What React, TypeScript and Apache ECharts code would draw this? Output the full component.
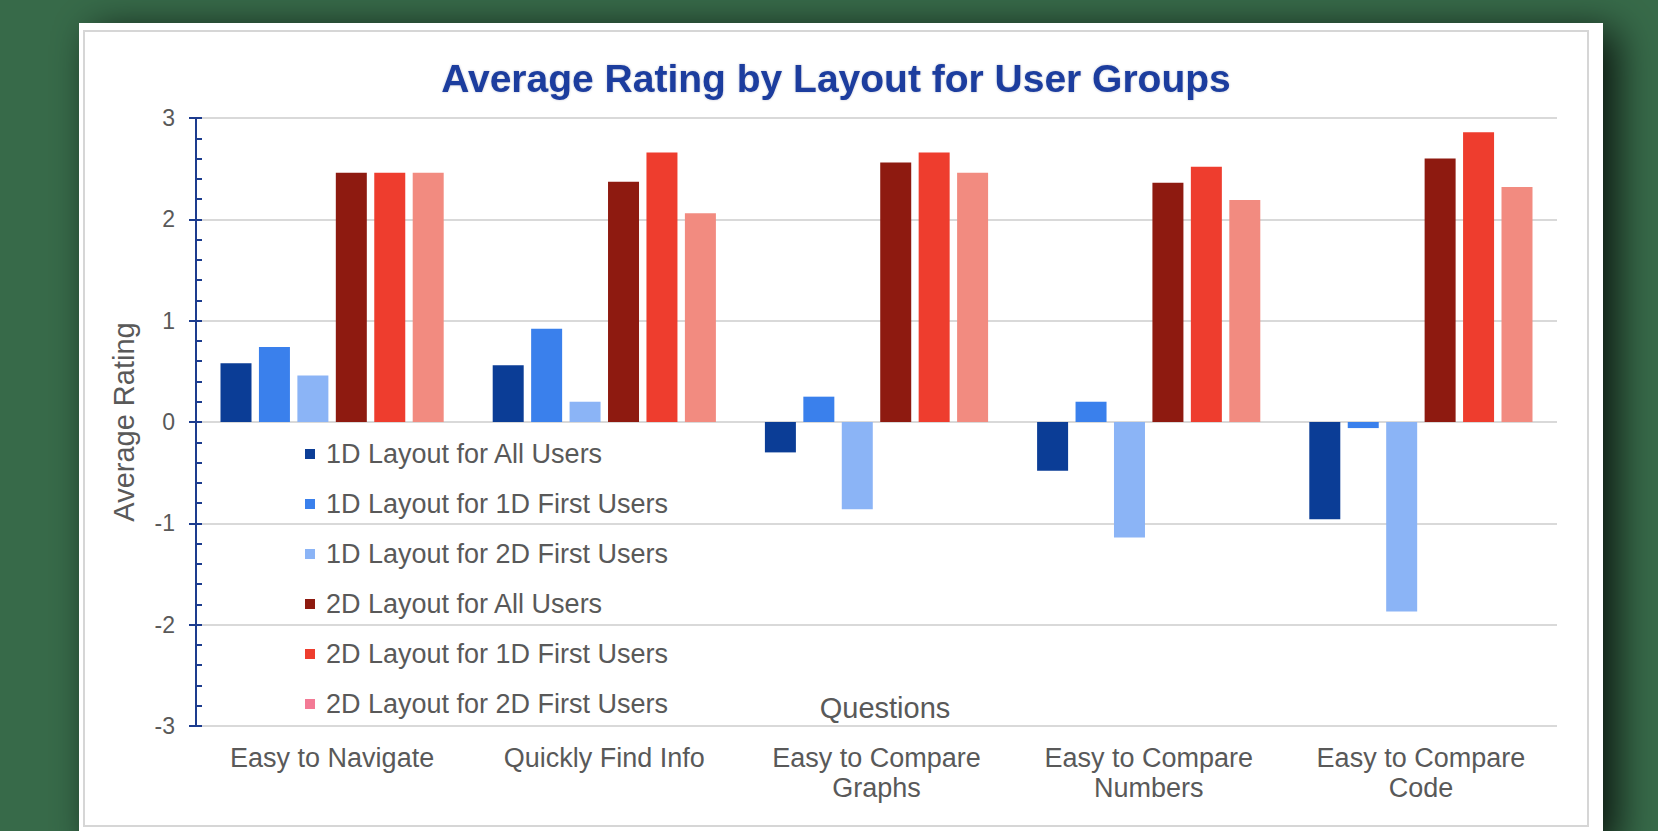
import React, { useEffect, useRef } from "react";
import * as echarts from "echarts";

const categories = [
  "Easy to Navigate",
  "Quickly Find Info",
  "Easy to Compare\nGraphs",
  "Easy to Compare\nNumbers",
  "Easy to Compare\nCode",
];
const seriesNames = [
  "1D Layout for All Users",
  "1D Layout for 1D First Users",
  "1D Layout for 2D First Users",
  "2D Layout for All Users",
  "2D Layout for 1D First Users",
  "2D Layout for 2D First Users",
];
const oneDAll = [0.58, 0.56, -0.3, -0.48, -0.96];
const oneDFirst1D = [0.74, 0.92, 0.25, 0.2, -0.06];
const oneDFirst2D = [0.46, 0.2, -0.86, -1.14, -1.87];
const twoDAll = [2.46, 2.37, 2.56, 2.36, 2.6];
const twoDFirst1D = [2.46, 2.66, 2.66, 2.52, 2.86];
const twoDFirst2D = [2.46, 2.06, 2.46, 2.19, 2.32];
const seriesValues = [oneDAll, oneDFirst1D, oneDFirst2D, twoDAll, twoDFirst1D, twoDFirst2D];
const barColors = ["#0b3d96", "#3a80ec", "#8bb4f6", "#8e1a10", "#ee3d2e", "#f28b80"];
const legendColors = ["#0b3d96", "#3a80ec", "#8bb4f6", "#8e1a10", "#ee3d2e", "#f37a95"];
const yMin = -3;
const yMax = 3;
const yInterval = 1;

const FONT = "'Liberation Sans', Arial, sans-serif";
const GRAY = "#595959";
const AXIS_BLUE = "#1d3c8e";

export default function App() {
  const ref = useRef<HTMLDivElement>(null);
  useEffect(() => {
    if (!ref.current) return;
    const chart = echarts.init(ref.current, undefined, { renderer: "svg" });
    chart.setOption({
      animation: false,
      backgroundColor: "#376a49",
      textStyle: { fontFamily: FONT },
      title: {
        text: "Average Rating by Layout for User Groups",
        left: 831,
        textAlign: "center",
        top: 54,
        textStyle: {
          fontFamily: FONT,
          fontSize: 39,
          fontWeight: "bold",
          color: "#1c3d9e",
          textShadowColor: "rgba(0,0,60,0.25)",
          textShadowBlur: 2,
        },
      },
      graphic: [
        {
          type: "rect",
          z: -10,
          silent: true,
          shape: { x: 79, y: 23, width: 1524, height: 820 },
          style: {
            fill: "#ffffff",
            shadowColor: "rgba(0,0,0,0.8)",
            shadowBlur: 40,
            shadowOffsetX: 14,
            shadowOffsetY: 8,
          },
        },
        {
          type: "rect",
          z: -9,
          silent: true,
          shape: { x: 84, y: 31, width: 1504, height: 795 },
          style: { fill: "transparent", stroke: "#d6d6d6", lineWidth: 2 },
        },
        {
          type: "text",
          x: 885,
          y: 708,
          silent: true,
          style: {
            text: "Questions",
            fontFamily: FONT,
            fontSize: 29,
            fill: GRAY,
            textAlign: "center",
            textVerticalAlign: "middle",
          },
        },
      ],
      legend: {
        orient: "vertical",
        left: 300,
        top: 435,
        itemWidth: 10,
        itemHeight: 10,
        itemGap: 22,
        icon: "rect",
        data: seriesNames.map((n, i) => ({ name: n, itemStyle: { color: legendColors[i] } })),
        textStyle: { fontFamily: FONT, fontSize: 27, color: GRAY, lineHeight: 28, padding: [0, 0, 0, 6] },
      },
      grid: { left: 196, right: 101, top: 118, bottom: 105 },
      xAxis: {
        type: "category",
        data: categories,
        axisLine: { show: false, onZero: false },
        axisTick: { show: false },
        axisLabel: {
          fontFamily: FONT,
          fontSize: 27,
          color: GRAY,
          lineHeight: 30,
          margin: 17,
          interval: 0,
        },
      },
      yAxis: [
        {
          type: "value",
          min: yMin,
          max: yMax,
          interval: yInterval,
          name: "Average Rating",
          nameLocation: "middle",
          nameGap: 58,
          nameRotate: 90,
          nameTextStyle: { fontFamily: FONT, fontSize: 29, color: GRAY },
          axisLine: { show: true, lineStyle: { color: AXIS_BLUE, width: 2 } },
          axisTick: { show: true, length: 7, lineStyle: { color: AXIS_BLUE, width: 2 } },
          axisLabel: { fontFamily: FONT, fontSize: 23, color: GRAY, margin: 21 },
          splitLine: { show: true, lineStyle: { color: "#d9d9d9", width: 2 } },
        },
        {
          type: "value",
          min: yMin,
          max: yMax,
          interval: yInterval,
          position: "left",
          axisLine: { show: false },
          axisLabel: { show: false },
          splitLine: { show: false },
          axisTick: { show: true, inside: true, length: 6, lineStyle: { color: AXIS_BLUE, width: 2 } },
          minorTick: { show: true, splitNumber: 5, length: 6, lineStyle: { color: AXIS_BLUE, width: 2 } },
        },
      ],
      series: seriesNames.map((name, i) => ({
        name,
        type: "bar",
        data: seriesValues[i],
        barWidth: 31,
        barGap: "24%",
        itemStyle: { color: barColors[i] },
        emphasis: { disabled: true },
      })),
    });
    return () => chart.dispose();
  }, []);
  return (
    <div
      ref={ref}
      style={{ position: "fixed", left: 0, top: 0, width: 1658, height: 831 }}
    />
  );
}
